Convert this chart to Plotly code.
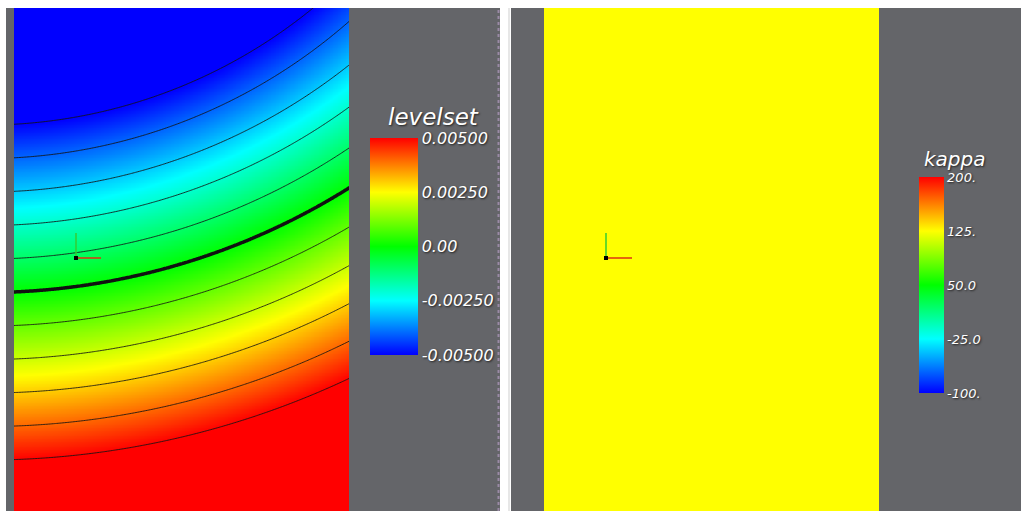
import numpy as np
import plotly.graph_objects as go

W, H = 1021, 511
OFF = 0  # page body margin removed by post_script

# ---------------- data ----------------
# levelset field: signed distance to a circular interface (domain units)
domain_x = [0.0, 0.01]
domain_y = [0.0, 0.01 * 503 / 335]
drop_center = [-0.00087, 0.0270]
drop_radius = 0.02048
levelset_range = [-0.005, 0.005]
levelset_contour_step = 0.001
levelset_ticks = [0.005, 0.0025, 0.0, -0.0025, -0.005]
levelset_ticktext = ["0.00500", "0.00250", "0.00", "-0.00250", "-0.00500"]

# kappa field: uniform value
kappa_value = 125.0
kappa_range = [-100.0, 200.0]
kappa_ticks = [200, 125, 50, -25, -100]
kappa_ticktext = ["200.", "125.", "50.0", "-25.0", "-100."]

# ---------------- styling ----------------
GRAY = "#646569"
rainbow = [[0.0, "rgb(0,0,255)"], [0.25, "rgb(0,255,255)"], [0.5, "rgb(0,255,0)"],
           [0.75, "rgb(255,255,0)"], [1.0, "rgb(255,0,0)"]]

def px(x):
    return (x - OFF) / W

def py(y):
    return 1 - (y - OFF) / H

# grid for the levelset field
gx = np.linspace(domain_x[0] - 0.0002, domain_x[1] + 0.0002, 220)
gy = np.linspace(domain_y[0] - 0.0002, domain_y[1] + 0.0002, 330)
XX, YY = np.meshgrid(gx, gy)
phi = np.sqrt((XX - drop_center[0]) ** 2 + (YY - drop_center[1]) ** 2) - drop_radius

fig = go.Figure()

lab_font = dict(family="DejaVu Sans", size=16, color="white", style="italic",
                shadow="1px 1px 2px #222")
fig.add_trace(go.Heatmap(
    x=gx, y=gy, z=phi, zmin=levelset_range[0], zmax=levelset_range[1],
    colorscale=rainbow, zsmooth="best", xaxis="x", yaxis="y",
    colorbar=dict(
        x=px(370), xanchor="left", xpad=0, y=py(138), yanchor="top", ypad=0,
        lenmode="pixels", len=217, thicknessmode="pixels", thickness=48,
        outlinewidth=0, ticks="", tickvals=levelset_ticks, ticktext=levelset_ticktext,
        tickfont=lab_font, ticklabeloverflow="allow",
    ),
    hoverinfo="skip",
))
fig.add_trace(go.Contour(
    x=gx, y=gy, z=phi, xaxis="x", yaxis="y", showscale=False,
    contours=dict(start=levelset_range[0], end=levelset_range[1],
                  size=levelset_contour_step, coloring="none"),
    line=dict(color="rgba(20,20,20,0.85)", width=1, smoothing=1.0),
    hoverinfo="skip",
))
fig.add_trace(go.Contour(
    x=gx, y=gy, z=phi, xaxis="x", yaxis="y", showscale=False,
    contours=dict(start=0, end=0, size=1, coloring="none"),
    line=dict(color="#111111", width=3.5),
    hoverinfo="skip",
))

kfont = dict(family="DejaVu Sans", size=13, color="white", style="italic",
             shadow="1px 1px 2px #222")
fig.add_trace(go.Heatmap(
    x=[domain_x[0] - 0.001, domain_x[1] + 0.001],
    y=[domain_y[0] - 0.001, domain_y[1] + 0.001],
    z=[[kappa_value, kappa_value], [kappa_value, kappa_value]],
    zmin=kappa_range[0], zmax=kappa_range[1], colorscale=rainbow,
    xaxis="x2", yaxis="y2",
    colorbar=dict(
        x=px(919), xanchor="left", xpad=0, y=py(177), yanchor="top", ypad=0,
        lenmode="pixels", len=216, thicknessmode="pixels", thickness=25,
        outlinewidth=0, ticks="", tickvals=kappa_ticks, ticktext=kappa_ticktext,
        tickfont=kfont, ticklabeloverflow="allow",
    ),
    hoverinfo="skip",
))

ax = dict(visible=False, showgrid=False, zeroline=False, fixedrange=True)
fig.update_layout(
    width=W, height=H, autosize=False,
    margin=dict(l=0, r=0, t=0, b=0, pad=0),
    paper_bgcolor="white", plot_bgcolor=GRAY, showlegend=False,
    hovermode=False, dragmode=False,
    xaxis=dict(domain=[px(14), px(349)], range=domain_x, **ax),
    yaxis=dict(domain=[py(511), py(8)], range=domain_y, **ax),
    xaxis2=dict(domain=[px(544), px(879)], range=domain_x, **ax),
    yaxis2=dict(domain=[py(511), py(8)], range=domain_y, anchor="x2", **ax),
)

shapes = [
    dict(type="rect", xref="paper", yref="paper", x0=px(6), x1=px(500), y0=0, y1=py(8),
         fillcolor=GRAY, line=dict(width=0), layer="below"),
    dict(type="rect", xref="paper", yref="paper", x0=px(511), x1=1, y0=0, y1=py(8),
         fillcolor=GRAY, line=dict(width=0), layer="below"),
    dict(type="line", xref="paper", yref="paper", x0=px(498.5), x1=px(498.5), y0=0, y1=py(8),
         line=dict(color="#9a8aa6", width=2, dash="dot")),
    dict(type="line", xref="paper", yref="paper", x0=px(509), x1=px(509), y0=0, y1=py(8),
         line=dict(color="#cfcfcf", width=1)),
]
# orientation axes glyphs
for ox, oy, rx, gyy in [(76, 258, 101, 233), (606, 258, 632, 233)]:
    shapes += [
        dict(type="line", xref="paper", yref="paper", x0=px(ox), x1=px(ox), y0=py(oy), y1=py(gyy),
             line=dict(color="#33cc33", width=1.5)),
        dict(type="line", xref="paper", yref="paper", x0=px(ox), x1=px(rx), y0=py(oy), y1=py(oy),
             line=dict(color="#dd3311", width=1.5)),
        dict(type="rect", xref="paper", yref="paper", x0=px(ox - 2), x1=px(ox + 2),
             y0=py(oy + 2), y1=py(oy - 2), fillcolor="black", line=dict(width=0)),
    ]
fig.update_layout(shapes=shapes)

title_font = dict(family="DejaVu Sans", color="white", style="italic",
                  shadow="1px 1px 2px #222")
fig.add_annotation(text="levelset", xref="paper", yref="paper", x=px(433), y=py(131),
                   xanchor="center", yanchor="bottom", showarrow=False, borderpad=0,
                   font=dict(size=23, **title_font))
fig.add_annotation(text="kappa", xref="paper", yref="paper", x=px(954), y=py(172),
                   xanchor="center", yanchor="bottom", showarrow=False, borderpad=0,
                   font=dict(size=20, **title_font))

fig.write_html(
    "out.html", default_width="1021px", default_height="511px",
    config={"displayModeBar": False, "staticPlot": True},
    post_script="document.body.style.margin='0';"
                "document.body.style.overflow='hidden';",
)
